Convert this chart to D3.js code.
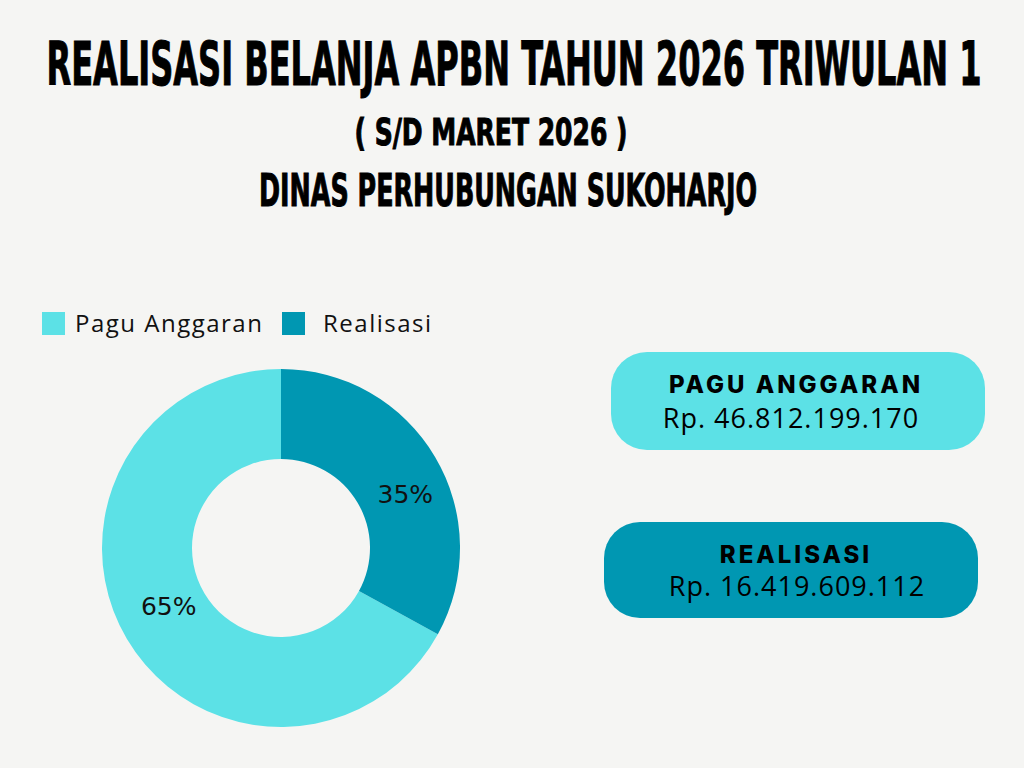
<!DOCTYPE html>
<html>
<head>
<meta charset="utf-8">
<script src="https://cdn.jsdelivr.net/npm/d3@7"></script>
<style>
  html, body { margin: 0; padding: 0; background: #f5f5f3; }
  svg { display: block; }
</style>
</head>
<body>
<svg id="chart" width="1024" height="768"></svg>
<script>
// data
const titleLines = [
  "REALISASI BELANJA APBN TAHUN 2026 TRIWULAN 1",
  "( S/D MARET 2026 )",
  "DINAS PERHUBUNGAN SUKOHARJO"
];
const categories = ["Pagu Anggaran", "Realisasi"];
const sliceValues = [67, 33];          // slice sizes as drawn in the picture
const labels = ["65%", "35%"];          // labels printed on the slices
const amounts = ["46.812.199.170", "16.419.609.112"];
const boxTitles = ["PAGU ANGGARAN", "REALISASI"];
const colors = ["#5ce1e6", "#0097b2"];

const svg = d3.select("#chart");
const W = 1024, H = 768;

svg.append("rect").attr("width", W).attr("height", H).attr("fill", "#f5f5f3");

// --- titles (condensed heavy look)
const titleSpec = [
  { x: 514, y: 85, size: 60, len: 935 },
  { x: 491, y: 145, size: 38, len: 273 },
  { x: 508, y: 206, size: 44, len: 498 }
];
svg.selectAll("text.title")
  .data(titleLines)
  .enter().append("text")
    .attr("class", "title")
    .attr("x", (d, i) => titleSpec[i].x)
    .attr("y", (d, i) => titleSpec[i].y)
    .attr("text-anchor", "middle")
    .attr("textLength", (d, i) => titleSpec[i].len)
    .attr("lengthAdjust", "spacingAndGlyphs")
    .style("font-family", "'Liberation Sans Narrow', 'DejaVu Sans Condensed', sans-serif")
    .style("font-weight", "bold")
    .style("font-size", (d, i) => titleSpec[i].size + "px")
    .style("fill", "#000")
    .style("stroke", "#000")
    .style("stroke-width", 1)
    .text(d => d);

// --- legend
const color = d3.scaleOrdinal().domain(categories).range(colors);
const legendX = [42, 282];
const legend = svg.selectAll("g.legend")
  .data(categories)
  .enter().append("g")
    .attr("class", "legend")
    .attr("transform", (d, i) => `translate(${legendX[i]}, 312)`);
legend.append("rect")
  .attr("width", 23).attr("height", 23)
  .attr("fill", d => color(d));
legend.append("text")
  .attr("x", (d, i) => i === 0 ? 33 : 41)
  .attr("y", 20)
  .style("font-family", "'Open Sans', sans-serif")
  .style("font-size", "24px")
  .style("letter-spacing", "1.5px")
  .style("fill", "#111")
  .text(d => d);

// --- donut
const cx = 281, cy = 548, outerR = 179, innerR = 89;
const start = sliceValues[1] / d3.sum(sliceValues) * 2 * Math.PI;
const pie = d3.pie()
  .sort(null)
  .value(d => d.val)
  .startAngle(start)
  .endAngle(start + 2 * Math.PI);
const arcGen = d3.arc().innerRadius(innerR).outerRadius(outerR);

const pieData = pie(categories.map((c, i) => ({ cat: c, val: sliceValues[i], label: labels[i] })));
const labelShift = [[3, -10], [9, 14]];
const donut = svg.append("g").attr("transform", `translate(${cx}, ${cy})`);
donut.selectAll("path")
  .data(pieData)
  .enter().append("path")
    .attr("d", arcGen)
    .attr("fill", d => color(d.data.cat));
donut.selectAll("text")
  .data(pieData)
  .enter().append("text")
    .attr("transform", d => {
      const [x, y] = arcGen.centroid(d);
      const s = labelShift[d.index];
      return `translate(${x + s[0]}, ${y + s[1]})`;
    })
    .attr("dy", "0.36em")
    .attr("text-anchor", "middle")
    .style("font-family", "'DejaVu Sans', sans-serif")
    .style("font-size", "25px")
    .style("fill", "#111")
    .text(d => d.data.label);

// --- info boxes
const boxes = [
  { x: 611, y: 352, w: 374, h: 98, tx: 796, ty: 393, vx: 791, vy: 428 },
  { x: 604, y: 522, w: 374, h: 96, tx: 796, ty: 563, vx: 797, vy: 596 }
];
const box = svg.selectAll("g.box")
  .data(boxTitles)
  .enter().append("g")
    .attr("class", "box");
box.append("rect")
  .attr("x", (d, i) => boxes[i].x)
  .attr("y", (d, i) => boxes[i].y)
  .attr("width", (d, i) => boxes[i].w)
  .attr("height", (d, i) => boxes[i].h)
  .attr("rx", 36)
  .attr("fill", (d, i) => colors[i]);
box.append("text")
  .attr("x", (d, i) => boxes[i].tx)
  .attr("y", (d, i) => boxes[i].ty)
  .attr("text-anchor", "middle")
  .style("font-family", "Inter, 'DejaVu Sans', sans-serif")
  .style("font-weight", 800)
  .style("font-size", "24px")
  .style("letter-spacing", "3px")
  .style("fill", "#000")
  .text(d => d);
box.append("text")
  .attr("x", (d, i) => boxes[i].vx)
  .attr("y", (d, i) => boxes[i].vy)
  .attr("text-anchor", "middle")
  .style("font-family", "'Open Sans', sans-serif")
  .style("font-size", "27px")
  .style("letter-spacing", "1px")
  .style("fill", "#000")
  .text((d, i) => "Rp. " + amounts[i]);
</script>
</body>
</html>
